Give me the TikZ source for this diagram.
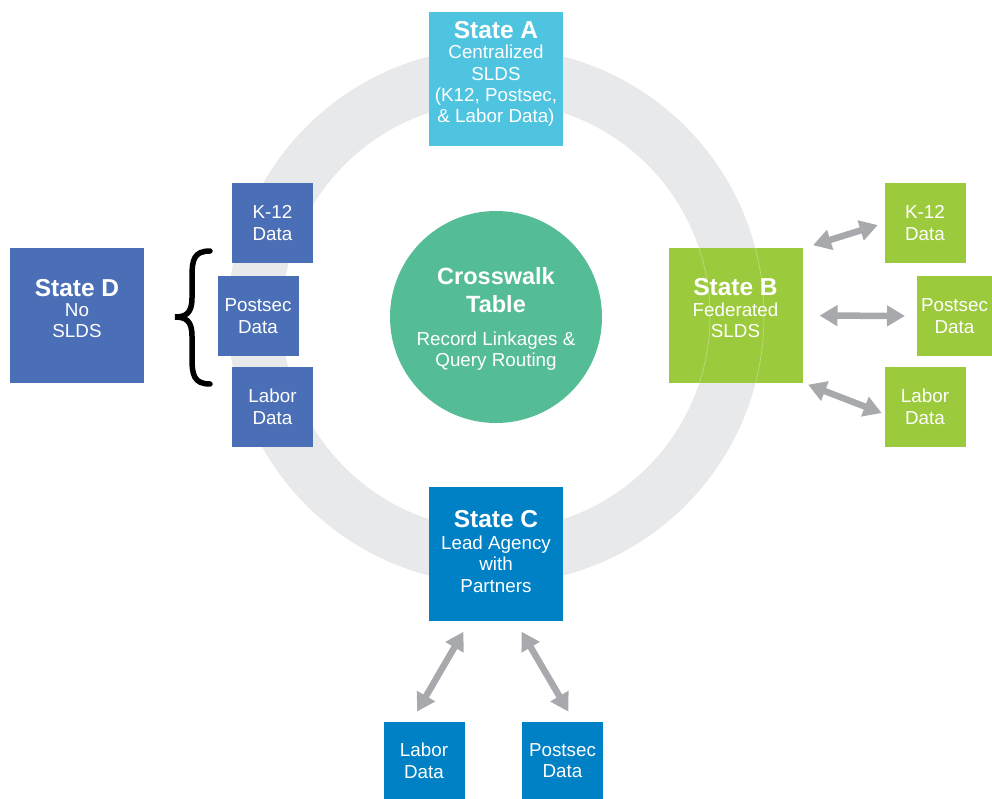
\documentclass[tikz,border=0pt]{standalone}
\usepackage{fontspec}
\setmainfont{Liberation Sans}
\usetikzlibrary{arrows.meta,calc}
\definecolor{ringgray}{HTML}{E8E9EB}
\definecolor{colA}{HTML}{4EC4E0}
\definecolor{colB}{HTML}{9CCA3D}
\definecolor{colC}{HTML}{0081C6}
\definecolor{colD}{HTML}{4B6FB6}
\definecolor{colCW}{HTML}{54BD96}
\definecolor{arrgray}{HTML}{A7A9AC}
\tikzset{
  bigbox/.style={minimum width=134pt, minimum height=134pt, inner sep=0pt, outer sep=0pt},
  smallbox/.style={minimum width=81pt, minimum height=80pt, inner sep=0pt, outer sep=0pt,
    align=center, text=white, font=\fontsize{18.8}{21.7}\selectfont},
  titletext/.style={text=white, inner sep=0pt, font=\fontsize{24.5}{27}\selectfont\bfseries},
  bodytext/.style={text=white, inner sep=0pt, align=center, font=\fontsize{18.8}{21.3}\selectfont},
  dblarrow/.style={draw=arrgray, line width=6.5pt,
    {Triangle[width=20pt,length=18pt]}-{Triangle[width=20pt,length=18pt]}},
}
\begin{document}
\begin{tikzpicture}[x=1pt,y=-1pt]
\useasboundingbox (0,0) rectangle (992,799);
% ring
\fill[ringgray, even odd rule] (496,316) circle[radius=268] (496,316) circle[radius=214];
% crosswalk circle
\node[circle, fill=colCW, minimum size=212pt, inner sep=0pt] (cw) at (496,317) {};
\node[titletext, font=\fontsize{23.5}{26}\selectfont\bfseries] (cwt1) at (496,276) {Crosswalk};
\node[titletext, font=\fontsize{23.5}{26}\selectfont\bfseries] (cwt2) at (496,304) {Table};
\node[bodytext] (cwt3) at (496,351) {Record Linkages \&\\Query Routing};
% State A
\node[bigbox, fill=colA] (A) at (496,79) {};
\node[titletext] (At) at (496,30) {State A};
\node[bodytext] (As) at (496,86) {Centralized\\SLDS\\(K12, Postsec,\\\& Labor Data)};
% State B
\node[bigbox, fill=colB] (B) at (735.5,315.5) {};
\begin{scope}
  \clip (B.north west) rectangle (B.south east);
  \draw[white, opacity=0.35, line width=0.6pt] (496,316) circle[radius=268] (496,316) circle[radius=214];
\end{scope}
\node[titletext] (Bt) at (735.5,287) {State B};
\node[bodytext] (Bs) at (735.5,320.5) {Federated\\SLDS};
% State C
\node[bigbox, fill=colC] (C) at (496,553.5) {};
\node[titletext] (Ct) at (496,519) {State C};
\node[bodytext] (Cs) at (496,564) {Lead Agency\\with\\Partners};
% State D
\node[bigbox, fill=colD] (D) at (77,315.5) {};
\node[titletext] (Dt) at (77,288) {State D};
\node[bodytext] (Ds) at (77,320.5) {No\\SLDS};
% left data boxes
\node[smallbox, fill=colD] (lk) at (272.5,223) {K-12\\Data};
\node[smallbox, fill=colD] (lp) at (258,316) {Postsec\\Data};
\node[smallbox, fill=colD] (ll) at (272.5,407) {Labor\\Data};
% right data boxes
\node[smallbox, fill=colB] (rk) at (925,223) {K-12\\Data};
\node[smallbox, fill=colB, minimum width=75pt] (rp) at (954.5,316) {Postsec\\Data};
\node[smallbox, fill=colB] (rl) at (925,407) {Labor\\Data};
% bottom data boxes
\node[smallbox, fill=colC, minimum height=77pt] (cl) at (424,760.5) {Labor\\Data};
\node[smallbox, fill=colC, minimum height=77pt] (cp) at (562.5,760.5) {Postsec\\Data};
% brace
\draw[black, line width=5.5pt, line cap=round]
  (210,251) .. controls (194,251) and (192,260) .. (192,276) -- (192,298)
  .. controls (192,313) and (186,317) .. (175,317)
  .. controls (186,317) and (192,321) .. (192,336) -- (192,358)
  .. controls (192,375) and (194,384) .. (210,384);
% arrows
\draw[dblarrow, shorten <=11pt, shorten >=7pt] (B.north east) -- (rk.west);
\draw[dblarrow, shorten <=17pt, shorten >=12pt] (B.east) -- (rp.west);
\draw[dblarrow, shorten <=6pt, shorten >=3pt] (B.south east) -- (rl.190);
\draw[dblarrow, shorten <=13pt, shorten >=12pt] ($(C.south)+(-26,0)$) -- ($(cl.north)+(-13,0)$);
\draw[dblarrow, shorten <=13pt, shorten >=12pt] ($(C.south)+(19,0)$) -- ($(cp.north)+(12,0)$);
\end{tikzpicture}
\end{document}
